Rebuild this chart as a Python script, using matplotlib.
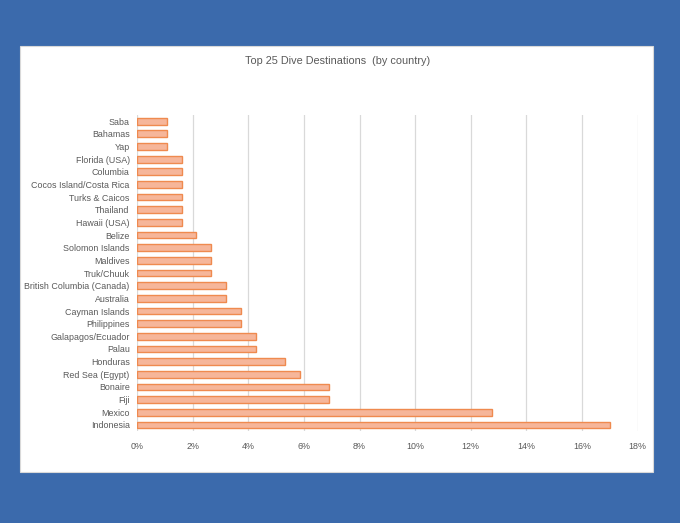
import matplotlib.pyplot as plt
from matplotlib.patches import Rectangle
from matplotlib.ticker import FuncFormatter

# categories listed bottom to top (as drawn)
countries = ["Indonesia", "Mexico", "Fiji", "Bonaire", "Red Sea (Egypt)", "Honduras",
             "Palau", "Galapagos/Ecuador", "Philippines", "Cayman Islands", "Australia",
             "British Columbia (Canada)", "Truk/Chuuk", "Maldives", "Solomon Islands",
             "Belize", "Hawaii (USA)", "Thailand", "Turks & Caicos", "Cocos Island/Costa Rica",
             "Columbia", "Florida (USA)", "Yap", "Bahamas", "Saba"]
share = [17.02, 12.77, 6.91, 6.91, 5.85, 5.32,
         4.26, 4.26, 3.72, 3.72, 3.19,
         3.19, 2.66, 2.66, 2.66,
         2.13, 1.60, 1.60, 1.60, 1.60,
         1.60, 1.60, 1.06, 1.06, 1.06]
xticks = [0, 2, 4, 6, 8, 10, 12, 14, 16, 18]

plt.rcParams['font.family'] = ['Liberation Sans', 'DejaVu Sans']
grey = '#595959'

fig = plt.figure(figsize=(6.8, 5.23), dpi=100, facecolor='#3b6aac')
# white chart panel
fig.patches.append(Rectangle((0.0294, 0.0975), 0.931, 0.8145, transform=fig.transFigure,
                             facecolor='white', edgecolor='#d9d9d9', linewidth=0.8, zorder=0))

ax = fig.add_axes([0.2019, 0.1753, 0.7356, 0.6054], zorder=2)
ax.set_facecolor('none')
ax.barh(range(len(countries)), share, height=0.55, color='#f6b69a',
        edgecolor='#ef8a4f', linewidth=1.0, zorder=3)

ax.set_xlim(0, 18)
ax.set_ylim(-0.5, len(countries) - 0.5)
ax.set_xticks(xticks)
ax.xaxis.set_major_formatter(FuncFormatter(lambda v, p: f"{int(v)}%"))
ax.set_yticks(range(len(countries)))
ax.set_yticklabels(countries)
ax.grid(axis='x', color='#d9d9d9', linewidth=0.9, zorder=0)
ax.set_axisbelow(True)
for s in ax.spines.values():
    s.set_visible(False)
ax.tick_params(axis='both', length=0, colors=grey, labelsize=6.4)
ax.tick_params(axis='x', pad=8)
ax.tick_params(axis='y', pad=5.5)

fig.text(0.497, 0.883, "Top 25 Dive Destinations  (by country)", ha='center', va='center',
         color=grey, fontsize=7.8, zorder=3)

plt.savefig('out.png', dpi=100, facecolor=fig.get_facecolor())
